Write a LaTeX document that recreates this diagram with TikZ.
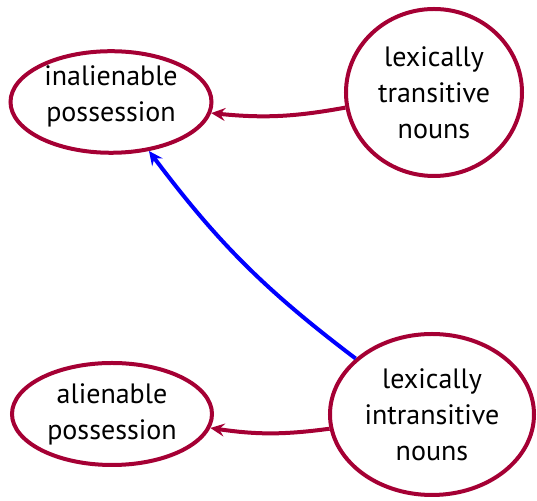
\documentclass[tikz,border=0pt]{standalone}
\usepackage{fontspec}
\setmainfont{PT Sans}
\usetikzlibrary{arrows.meta,shapes.geometric}
\definecolor{nounred}{RGB}{165,0,52}

\begin{document}
\begin{tikzpicture}[x=0.5pt, y=-0.5pt, >={Stealth[length=7pt,width=6.5pt,inset=2.5pt]},
	every node/.style={font=\fontsize{14}{18}\selectfont},
	nounclass/.style={draw=nounred, line width=2pt, ellipse, align=center, inner sep=0pt},
	link/.style={->, line width=2pt}]
	\useasboundingbox (0,0) rectangle (537,501);
	\node[nounclass, minimum width=100.5pt, minimum height=50pt, text depth=8pt] (inal) at (111,102) {inalienable\\possession};
	\node[nounclass, minimum width=88pt, minimum height=83.5pt] (trans) at (434,92.5) {lexically\\transitive\\nouns};
	\node[nounclass, minimum width=100pt, minimum height=51pt] (alien) at (112,414) {alienable\\possession};
	\node[nounclass, minimum width=102pt, minimum height=80.5pt] (intrans) at (432,414.5) {lexically\\intransitive\\nouns};
	\draw[link, nounred] (trans) to[bend left=8] (inal);
	\draw[link, nounred] (intrans) to[bend left=8] (alien);
	\draw[link, blue] (intrans) to[bend left=8] (inal);
\end{tikzpicture}
\end{document}
